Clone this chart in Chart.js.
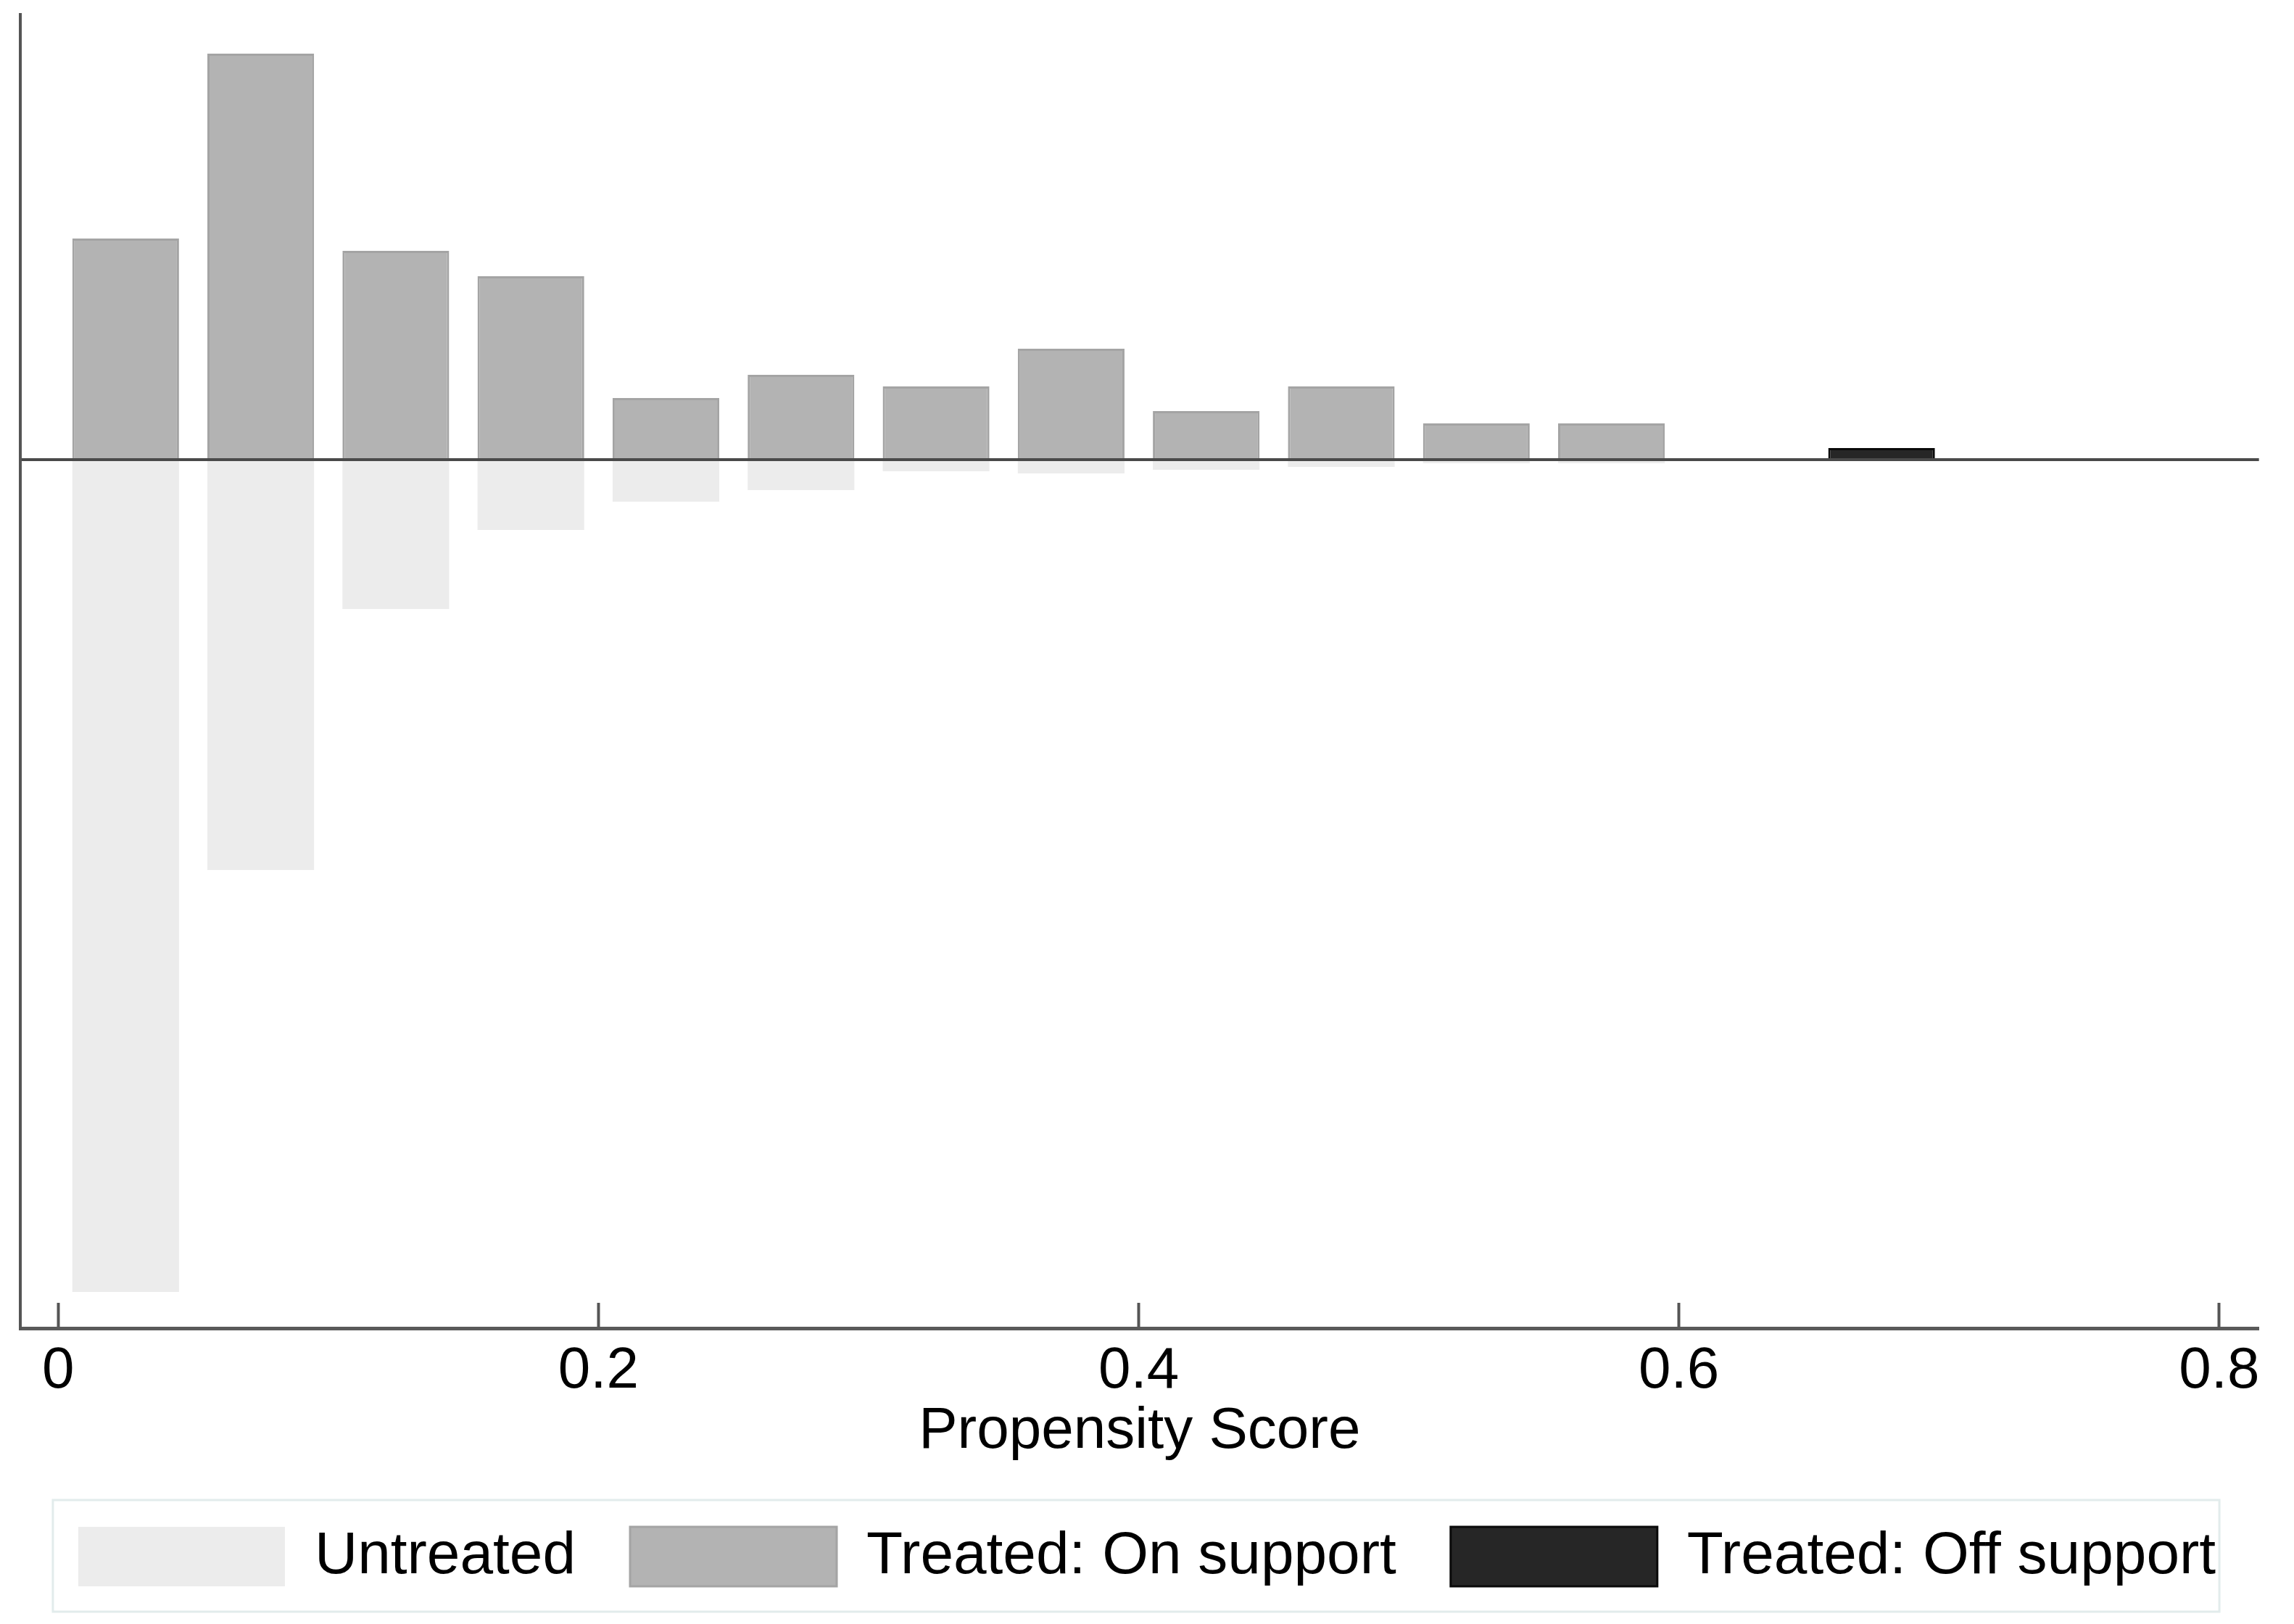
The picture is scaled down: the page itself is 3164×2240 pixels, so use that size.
<!DOCTYPE html>
<html>
<head>
<meta charset="utf-8">
<script src="https://cdn.jsdelivr.net/npm/chart.js@4/dist/chart.umd.min.js"></script>
<style>
    html, body { margin: 0; padding: 0; background: #fff; }
    #wrap { width: 3164px; height: 2240px; }
</style>
</head>
<body>
<div id="wrap"><canvas id="psChart"></canvas></div>
<script>
// propensity score bins (bin midpoints, width 0.05)
const binMids = [0.025, 0.075, 0.125, 0.175, 0.225, 0.275, 0.325, 0.375, 0.425, 0.475, 0.525, 0.575];
const treatedOn = [305, 560, 288, 253, 85, 117, 101, 153, 67, 101, 50, 50];
const untreated = [-1148, -566, -206, -97, -58, -42, -16, -19, -14, -10, -5, -5];
const offMids = [0.675];
const treatedOff = [16];

const xTickValues = [0, 0.2, 0.4, 0.6, 0.8];
const xTickLabels = ['0', '0.2', '0.4', '0.6', '0.8'];

const FONT = '"Liberation Sans", Arial, sans-serif';

const toPoints = (xs, ys) => xs.map((x, i) => ({ x: x, y: ys[i] }));

// thin frame round the legend, like the stata one
const legendFrame = {
    id: 'legendFrame',
    afterDraw(chart) {
        const boxes = chart.legend && chart.legend.legendHitBoxes;
        if (!boxes || !boxes.length) return;
        const first = boxes[0];
        const last = boxes[boxes.length - 1];
        const ctx = chart.ctx;
        const left = first.left - 35;
        const right = last.left + last.width + 5;
        ctx.save();
        ctx.strokeStyle = '#e2ecec';
        ctx.lineWidth = 3;
        ctx.strokeRect(left, first.top - 37, right - left, first.height + 72);
        ctx.restore();
    }
};

const ctx = document.getElementById('psChart').getContext('2d');
new Chart(ctx, {
    type: 'bar',
    data: {
        datasets: [
            {
                label: 'Untreated',
                data: toPoints(binMids, untreated),
                backgroundColor: '#ececec',
                borderWidth: 0
            },
            {
                label: 'Treated: On support',
                data: toPoints(binMids, treatedOn),
                backgroundColor: '#b3b3b3',
                borderColor: '#a4a4a4',
                borderWidth: 3
            },
            {
                label: 'Treated: Off support',
                data: toPoints(offMids, treatedOff),
                backgroundColor: '#262626',
                borderColor: '#0a0a0a',
                borderWidth: 3
            }
        ]
    },
    options: {
        responsive: true,
        maintainAspectRatio: false,
        animation: false,
        datasets: {
            bar: { grouped: false, barPercentage: 0.79, categoryPercentage: 1 }
        },
        layout: { padding: { left: 28, right: 28, top: 20, bottom: 42 } },
        plugins: {
            tooltip: { enabled: false },
            legend: {
                position: 'bottom',
                labels: {
                    boxWidth: 285,
                    boxHeight: 82,
                    padding: 75,
                    color: '#000',
                    font: { size: 82, family: FONT }
                }
            }
        },
        scales: {
            x: {
                type: 'linear',
                offset: false,
                min: -0.014,
                max: 0.8147,
                afterBuildTicks: axis => { axis.ticks = xTickValues.map(v => ({ value: v })); },
                afterFit: axis => { axis.height = 199; },
                ticks: {
                    callback: (value, index) => xTickLabels[index],
                    padding: 47,
                    autoSkip: false,
                    maxRotation: 0,
                    color: '#000',
                    font: { size: 80, family: FONT }
                },
                grid: {
                    offset: false,
                    drawOnChartArea: false,
                    drawTicks: true,
                    tickLength: -35,
                    tickWidth: 4,
                    tickColor: '#555'
                },
                border: { display: true, color: '#5a5a5a', width: 5 },
                title: {
                    display: true,
                    text: 'Propensity Score',
                    color: '#000',
                    font: { size: 80, family: FONT },
                    padding: { top: 0, bottom: 8 }
                }
            },
            y: {
                min: -1198,
                max: 614,
                afterBuildTicks: axis => { axis.ticks = [{ value: 0 }]; },
                afterFit: axis => { axis.width = 0; },
                ticks: { display: false },
                grid: { drawTicks: false, color: '#4a4a4a', lineWidth: 4 },
                border: { display: true, color: '#555', width: 4 }
            }
        }
    },
    plugins: [legendFrame]
});
</script>
</body>
</html>
